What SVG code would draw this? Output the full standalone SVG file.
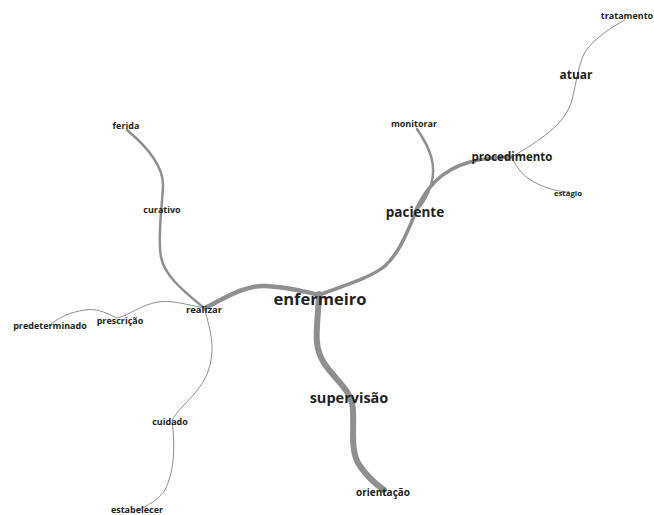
<svg xmlns="http://www.w3.org/2000/svg" width="654" height="515" viewBox="0 0 654 515">
<style>
.e{fill:none;stroke:#8f8f91;stroke-linecap:round}
.t{font-family:"Open Sans","Noto Sans",sans-serif;font-weight:700;fill:#231f20;text-anchor:middle}
.s{font-size:9px}
</style>
<rect width="654" height="515" fill="#fff"/>
<g id="connectors">
<path class="e" stroke-width="6" d="M319,294 C318,325 312,345 324,363 C336,381 352,390 353,410 C354,432 350,452 360,466 C368,478 377,485 384,490"/>
<path class="e" stroke-width="4.5" d="M205,308 C225,298 245,285 265,286 C290,287 305,292 320,295"/>
<path class="e" stroke-width="3.5" d="M322,294 C345,285 370,278 385,266 C400,252 408,230 415,214"/>
<path class="e" stroke-width="3.5" d="M415,212 C425,190 440,170 470,162 C485,158 500,157 512,157"/>
<path class="e" stroke-width="2.5" d="M417,129 C430,148 437,165 431,185 C427,198 421,205 415,212"/>
<path class="e" stroke-width="1" d="M512,157 C540,140 565,125 572,100 C576,85 578,65 585,52 C595,38 610,28 625,20"/>
<path class="e" stroke-width="1" d="M512,158 C518,170 525,178 538,184 C548,189 558,191 567,192"/>
<path class="e" stroke-width="2.5" d="M204,308 C185,292 165,277 161,257 C157,235 163,200 163,185 C163,165 145,145 127,130"/>
<path class="e" stroke-width="1" d="M204,308 C185,304 170,300 158,302 C140,305 130,315 117,318 C105,312 95,308 85,310 C70,312 58,318 50,325"/>
<path class="e" stroke-width="1" d="M205,310 C210,330 215,345 210,365 C205,390 180,405 172,420 C175,445 175,470 165,490 C158,500 148,506 137,510"/>
</g>
<g id="n-enfermeiro"><text class="t" x="320" y="305" font-size="16.5">enfermeiro</text></g>
<g id="n-paciente"><text class="t" x="415" y="217" font-size="13.5">paciente</text></g>
<g id="n-procedimento"><text class="t" x="512" y="161" font-size="11.5">procedimento</text></g>
<g id="n-atuar"><text class="t" x="576" y="79" font-size="12">atuar</text></g>
<g id="n-tratamento"><text class="t s" x="627" y="19">tratamento</text></g>
<g id="n-monitorar"><text class="t s" x="414" y="127">monitorar</text></g>
<g id="n-estagio"><text class="t" x="568" y="195.5" font-size="7.8">estágio</text></g>
<g id="n-ferida"><text class="t s" x="126" y="129">ferida</text></g>
<g id="n-curativo"><text class="t s" x="162" y="213">curativo</text></g>
<g id="n-realizar"><text class="t" x="204" y="313" font-size="9.5">realizar</text></g>
<g id="n-prescricao"><text class="t s" x="120" y="324">prescrição</text></g>
<g id="n-predeterminado"><text class="t s" x="50" y="329">predeterminado</text></g>
<g id="n-cuidado"><text class="t s" x="170" y="425">cuidado</text></g>
<g id="n-estabelecer"><text class="t s" x="137" y="512.5">estabelecer</text></g>
<g id="n-supervisao"><text class="t" x="349" y="403" font-size="14.5">supervisão</text></g>
<g id="n-orientacao"><text class="t" x="383" y="496" font-size="10">orientação</text></g>
</svg>
